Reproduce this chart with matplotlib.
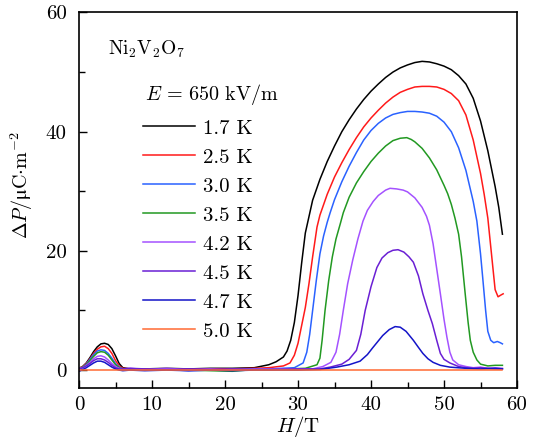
import numpy as np
import matplotlib
matplotlib.use("Agg")
import matplotlib.pyplot as plt
from matplotlib.ticker import MultipleLocator

plt.rcParams['font.family'] = ['cmr10', 'DejaVu Serif']
plt.rcParams['mathtext.fontset'] = 'cm'
plt.rcParams['axes.unicode_minus'] = False

# === data ===

temps = ["1.7 K", "2.5 K", "3.0 K", "3.5 K", "4.2 K", "4.5 K", "4.7 K", "5.0 K"]
colors = ["#000000", "#ff1a1a", "#2a62ff", "#229922", "#a452ff", "#6a1fd4", "#1414c8", "#ff6a33"]

# low field part, shared H grid
H_low = [0, 0.5, 1, 1.5, 2, 2.5, 3, 3.5, 4, 4.5, 5, 5.5, 6, 7, 9, 12, 15, 18, 21, 24]
P_low = [
    [0.3, 0.6, 1.2, 2.1, 3.1, 3.9, 4.4, 4.5, 4.3, 3.6, 2.4, 1.1, 0.4, 0.2, 0.2, 0.3, 0.2, 0.3, 0.3, 0.4],
    [0.3, 0.6, 1.1, 1.9, 2.8, 3.5, 3.9, 4.0, 3.6, 2.8, 1.6, 0.7, 0.3, 0.2, 0.2, 0.2, 0.1, 0.2, 0.2, 0.3],
    [0.2, 0.5, 1.0, 1.8, 2.6, 3.2, 3.4, 3.3, 2.8, 2.0, 1.1, 0.5, 0.2, 0.1, 0.0, 0.1, -0.1, 0.0, 0.1, 0.2],
    [0.3, 0.5, 0.9, 1.6, 2.3, 2.9, 3.1, 3.0, 2.5, 1.7, 0.9, 0.4, 0.2, 0.2, 0.1, 0.2, 0.0, -0.1, -0.2, 0.1],
    [0.3, 0.4, 0.8, 1.3, 1.9, 2.3, 2.4, 2.2, 1.7, 1.1, 0.6, 0.3, 0.2, 0.3, 0.1, 0.3, 0.1, 0.2, 0.0, 0.2],
    [0.2, 0.4, 0.7, 1.1, 1.6, 1.9, 1.9, 1.7, 1.3, 0.8, 0.4, 0.2, 0.2, 0.3, 0.2, 0.1, 0.2, 0.1, 0.2, 0.1],
    [-0.2, 0.1, 0.4, 0.8, 1.2, 1.5, 1.5, 1.3, 0.9, 0.5, 0.2, 0.0, -0.1, 0.0, -0.1, 0.0, -0.1, 0.0, -0.1, 0.0],
    [0.1, 0.1, 0.1, 0.1, 0.1, 0.1, 0.1, 0.1, 0.1, 0.1, 0.1, 0.1, 0.1, 0.1, 0.1, 0.1, 0.1, 0.1, 0.1, 0.1],
]

# high field part, one H list per curve
H_high = [
    [26, 27, 28, 28.5, 29, 29.5, 30, 30.5, 31, 32, 33, 34, 35, 36, 37, 38, 39, 40, 41, 42, 43, 44, 45,
     46, 47, 48, 49, 50, 51, 52, 53, 54, 55, 56, 57, 57.5, 58],
    [26, 28, 28.9, 29.5, 30, 30.5, 31, 31.5, 32, 32.6, 33, 34, 35, 36, 37, 38, 39, 40, 41, 42, 43, 44,
     45, 46, 47, 48, 49, 50, 51, 52, 53, 54, 55, 55.5, 56, 56.6, 57, 57.4, 57.8, 58.1],
    [26, 29.5, 30.7, 31.2, 31.6, 32, 32.5, 33, 33.5, 34, 34.4, 35, 36, 37, 38, 39, 40, 41, 42, 43, 44,
     45, 46, 47, 48, 49, 50, 51, 52, 53, 54, 54.5, 55, 55.3, 55.7, 56, 56.4, 56.8, 57.3, 57.7, 58],
    [26, 31, 32.6, 33, 33.3, 33.7, 34.2, 34.7, 35.2, 35.8, 36.2, 37, 38, 39, 40, 41, 42, 43, 44, 44.9,
     45.5, 46, 47, 48, 49, 50, 50.5, 51, 51.5, 52, 52.4, 52.9, 53.3, 53.6, 54, 54.5, 55, 56, 57, 58],
    [26, 32, 33.4, 34.5, 35.2, 35.7, 36.2, 36.8, 37.5, 38.2, 38.9, 39.5, 40.3, 41, 42, 42.6, 43.5, 44.4,
     45, 46, 47, 47.6, 48, 48.5, 49, 49.5, 50, 50.4, 50.8, 51.2, 52, 53, 54, 55, 56, 57, 58],
    [26, 30, 33, 34.4, 36, 37, 38, 38.6, 39.2, 40, 40.8, 41.5, 42.3, 43, 43.7, 44.5, 45.2, 45.8, 46.5,
     47.1, 47.8, 48.4, 49, 49.5, 50, 50.8, 52, 53, 54, 55, 56, 57, 58],
    [26, 30, 33, 35.3, 37, 38.5, 39.5, 40.2, 40.8, 41.6, 42.5, 43.3, 44, 44.8, 45.8, 46.5, 47.1, 47.8,
     48.5, 49.5, 50.8, 53, 55, 57, 58],
    [26, 30, 35, 40, 45, 50, 55, 58],
]
P_high = [
    [0.9, 1.4, 2.2, 3.2, 5.0, 8.0, 12.5, 18.0, 23.0, 28.5, 32.0, 35.0, 37.6, 40.0, 42.0, 43.8, 45.4,
     46.8, 48.0, 49.1, 50.0, 50.7, 51.2, 51.6, 51.8, 51.7, 51.4, 51.0, 50.4, 49.4, 48.0, 45.6, 41.8,
     36.8, 30.8, 27.3, 22.8],
    [0.4, 0.7, 1.2, 2.5, 4.5, 7.5, 10.5, 14.5, 19.0, 24.0, 26.0, 29.5, 32.4, 34.8, 37.0, 39.0, 40.8,
     42.3, 43.6, 44.8, 45.8, 46.6, 47.1, 47.5, 47.6, 47.6, 47.5, 47.1, 46.4, 45.2, 42.8, 38.6, 33.0,
     29.5, 25.5, 18.3, 13.5, 12.3, 12.6, 12.8],
    [0.2, 0.4, 1.2, 3.0, 6.0, 10.0, 15.0, 19.5, 22.5, 24.8, 26.4, 28.6, 31.6, 34.2, 36.5, 38.6, 40.2,
     41.4, 42.3, 42.9, 43.2, 43.4, 43.4, 43.3, 43.1, 42.6, 41.6, 40.0, 37.3, 33.5, 28.3, 25.0, 19.5,
     15.5, 10.0, 6.5, 5.0, 4.6, 4.8, 4.6, 4.4],
    [0.1, 0.3, 0.9, 2.0, 5.0, 10.0, 15.0, 19.0, 22.0, 24.6, 26.4, 29.0, 31.4, 33.3, 35.0, 36.4, 37.6,
     38.5, 38.9, 39.0, 38.7, 38.3, 37.2, 35.6, 33.6, 31.0, 29.6, 27.8, 25.5, 22.8, 19.0, 12.8, 8.0,
     5.0, 3.0, 1.7, 1.0, 0.7, 0.8, 0.8],
    [0.2, 0.2, 0.6, 1.3, 3.0, 6.0, 10.0, 14.5, 18.5, 22.0, 25.0, 26.8, 28.3, 29.3, 30.2, 30.5, 30.4,
     30.2, 29.9, 28.9, 27.3, 25.8, 24.3, 21.2, 17.0, 12.8, 8.5, 5.5, 3.0, 1.7, 0.9, 0.6, 0.4, 0.5, 0.3,
     0.4, 0.3],
    [0.1, 0.2, 0.2, 0.5, 1.0, 1.8, 3.3, 6.0, 10.0, 14.0, 17.2, 18.8, 19.7, 20.1, 20.2, 19.8, 19.0, 18.1,
     15.8, 12.8, 10.0, 7.8, 5.0, 2.8, 1.8, 1.2, 0.6, 0.4, 0.3, 0.4, 0.3, 0.2, 0.2],
    [0.0, 0.0, 0.1, 0.5, 0.9, 1.5, 2.6, 3.7, 4.6, 5.8, 6.8, 7.3, 7.2, 6.5, 5.0, 3.8, 2.8, 1.9, 1.3,
     0.8, 0.5, 0.3, 0.2, 0.3, 0.2],
    [0.1, 0.1, 0.1, 0.1, 0.1, 0.1, 0.1, 0.1],
]

# === plot ===

fig = plt.figure(figsize=(5.35, 4.38), dpi=100)
ax = fig.add_axes([0.1477, 0.1142, 0.8187, 0.8573])

for i in range(len(temps)):
    H = H_low + H_high[i]
    P = P_low[i] + P_high[i]
    ax.plot(H, P, color=colors[i], lw=1.1, label=temps[i])

ax.set_xlim(0, 60)
ax.set_ylim(-3, 60)
ax.xaxis.set_major_locator(MultipleLocator(10))
ax.xaxis.set_minor_locator(MultipleLocator(5))
ax.yaxis.set_major_locator(MultipleLocator(20))
ax.yaxis.set_minor_locator(MultipleLocator(10))
ax.tick_params(which='both', direction='in', top=False, right=False, labelsize=15, width=1.0)
ax.tick_params(which='major', length=6)
ax.tick_params(which='minor', length=4)
ax.tick_params(axis='x', which='major', pad=6)
ax.tick_params(axis='y', which='major', pad=9)
for s in ax.spines.values():
    s.set_linewidth(1.2)

ax.set_xlabel(r'$H/\mathrm{T}$', fontsize=15, va='top')
ax.xaxis.set_label_coords(0.5, -0.070)
ax.set_ylabel(r'$\Delta P/\mathrm{μC{\cdot}m}^{-2}$', fontsize=14.5)
ax.yaxis.set_label_coords(-0.10, 0.54)

ax.text(0.066, 0.889, r'$\mathrm{Ni_2V_2O_7}$', transform=ax.transAxes, fontsize=14, va='baseline')
ax.text(0.151, 0.767, r'$E\,{=}\,650\ \mathrm{kV/m}$', transform=ax.transAxes, fontsize=14.5,
        va='baseline')

ax.legend(loc='upper left', bbox_to_anchor=(0.147, 0.716), frameon=False, fontsize=15,
          handlelength=2.5, handletextpad=0.35, labelspacing=0.5, borderaxespad=0, borderpad=0)

fig.savefig("out.png", dpi=100)
